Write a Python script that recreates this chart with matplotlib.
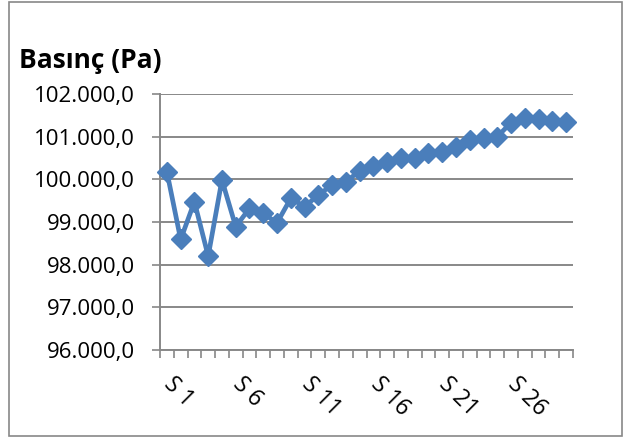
import matplotlib
matplotlib.use("Agg")
import matplotlib.pyplot as plt
import matplotlib.ticker as mticker
import matplotlib.transforms as mtransforms
from matplotlib.patches import Rectangle

# Pressure readings per station
stations = [f"S {i}" for i in range(1, 31)]
pressure = [100180, 98590, 99475, 98200, 99985, 98890, 99320, 99200, 98980, 99555,
            99360, 99630, 99870, 99940, 100200, 100310, 100410, 100490, 100490, 100610,
            100650, 100765, 100920, 100960, 101000, 101330, 101430, 101405, 101375, 101350]
y_ticks = [96000, 97000, 98000, 99000, 100000, 101000, 102000]
title = "Basınç (Pa)"

plt.rcParams['font.family'] = ['Open Sans', 'DejaVu Sans']

W, H = 624, 438
fig = plt.figure(figsize=(W / 100, H / 100), dpi=100)
ax = fig.add_axes([160 / W, 1 - 350 / H, (573 - 160) / W, (350 - 94) / H])

line_color = "#4A7EBB"
grid_color = "#888888"

x = list(range(1, len(stations) + 1))
ax.plot(x, pressure, color=line_color, lw=3.4, marker="D", markersize=10.5,
        markeredgecolor=line_color, markerfacecolor=line_color, clip_on=False, zorder=3)

ax.set_xlim(0.5, len(stations) + 0.5)
ax.set_ylim(y_ticks[0], y_ticks[-1])

# y axis
ax.set_yticks(y_ticks)
ax.yaxis.set_major_formatter(mticker.FuncFormatter(
    lambda v, p: f"{v:,.1f}".replace(",", "X").replace(".", ",").replace("X", ".")))
ax.tick_params(axis="y", direction="out", length=6, width=1.2, color=grid_color,
               labelsize=16, pad=12, labelcolor="black")
ax.grid(axis="y", color=grid_color, lw=1.4)
ax.set_axisbelow(True)

# x axis: tick marks at category boundaries, labels every 5 stations
ax.set_xticks([i + 0.5 for i in range(0, len(stations) + 1)])
ax.set_xticklabels([])
ax.tick_params(axis="x", which="major", direction="out", length=6, width=1.2, color=grid_color)
label_pos = x[::5]
ax.set_xticks(label_pos, minor=True)
ax.set_xticklabels([stations[i - 1] for i in label_pos], minor=True)
ax.tick_params(axis="x", which="minor", length=0, pad=16, labelsize=16.5)
offset = mtransforms.ScaledTranslation(-8 / 100, 0, fig.dpi_scale_trans)
for lbl in ax.get_xticklabels(minor=True):
    lbl.set_rotation(-45)
    lbl.set_ha("left")
    lbl.set_va("top")
    lbl.set_transform(lbl.get_transform() + offset)

for s in ["top", "right"]:
    ax.spines[s].set_visible(False)
for s in ["left", "bottom"]:
    ax.spines[s].set_color(grid_color)
    ax.spines[s].set_linewidth(1.4)

fig.text(19 / W, 1 - 60 / H, title, fontsize=19, fontweight="bold", ha="left", va="center")

# chart frame
fig.patches.append(Rectangle((9 / W, 2 / H), (622 - 9) / W, (436 - 2) / H,
                             transform=fig.transFigure, fill=False,
                             edgecolor=grid_color, lw=1.2))

fig.savefig("out.png", dpi=100)
